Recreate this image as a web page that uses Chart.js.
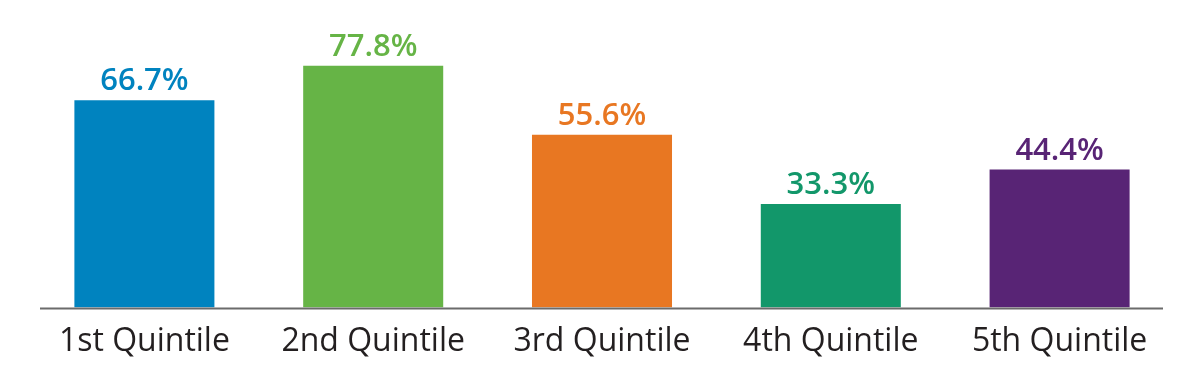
<!DOCTYPE html>
<html>
<head>
<meta charset="utf-8">
<script src="https://cdn.jsdelivr.net/npm/chart.js@4/dist/chart.umd.min.js"></script>
<style>
  html, body { margin: 0; padding: 0; background: #fff; }
  #wrap { width: 1192px; height: 377px; position: relative; }
</style>
</head>
<body>
<div id="wrap"><canvas id="chart"></canvas></div>
<script>
const quintiles = ["1st Quintile", "2nd Quintile", "3rd Quintile", "4th Quintile", "5th Quintile"];
const shares = [66.7, 77.8, 55.6, 33.3, 44.4];
const barColors = ["#0083BF", "#66B446", "#E87722", "#12976A", "#582475"];

// value labels above each bar, coloured like the bar
const valueLabels = {
  id: "valueLabels",
  afterDatasetsDraw(chart) {
    const { ctx } = chart;
    const meta = chart.getDatasetMeta(0);
    ctx.save();
    ctx.font = "600 31px 'Open Sans'";
    ctx.textAlign = "center";
    ctx.textBaseline = "alphabetic";
    meta.data.forEach((bar, i) => {
      ctx.fillStyle = barColors[i];
      ctx.fillText(shares[i].toFixed(1) + "%", bar.x, bar.y - 10);
    });
    ctx.restore();
  }
};

// baseline, a bit shorter than the plot area
const baseline = {
  id: "baseline",
  afterDatasetsDraw(chart) {
    const { ctx, chartArea } = chart;
    const y = chart.scales.y.getPixelForValue(0);
    ctx.save();
    ctx.strokeStyle = "#6b6b6b";
    ctx.lineWidth = 2;
    ctx.beginPath();
    ctx.moveTo(chartArea.left + 10, y + 1);
    ctx.lineTo(chartArea.right - 11, y + 1);
    ctx.stroke();
    ctx.restore();
  }
};

new Chart(document.getElementById("chart"), {
  type: "bar",
  data: {
    labels: quintiles,
    datasets: [{
      data: shares,
      backgroundColor: barColors,
      borderWidth: 0,
      categoryPercentage: 1,
      barPercentage: 0.612
    }]
  },
  options: {
    responsive: true,
    maintainAspectRatio: false,
    animation: false,
    layout: { padding: { left: 30, right: 18, top: 0, bottom: 8 } },
    plugins: {
      legend: { display: false },
      tooltip: { enabled: false }
    },
    scales: {
      x: {
        grid: { display: false },
        border: { display: false },
        ticks: {
          color: "#231F20",
          font: { family: "'Open Sans'", size: 32 },
          padding: 7.6,
          maxRotation: 0
        }
      },
      y: {
        display: false,
        min: 0,
        max: 99
      }
    }
  },
  plugins: [valueLabels, baseline]
});
</script>
</body>
</html>
